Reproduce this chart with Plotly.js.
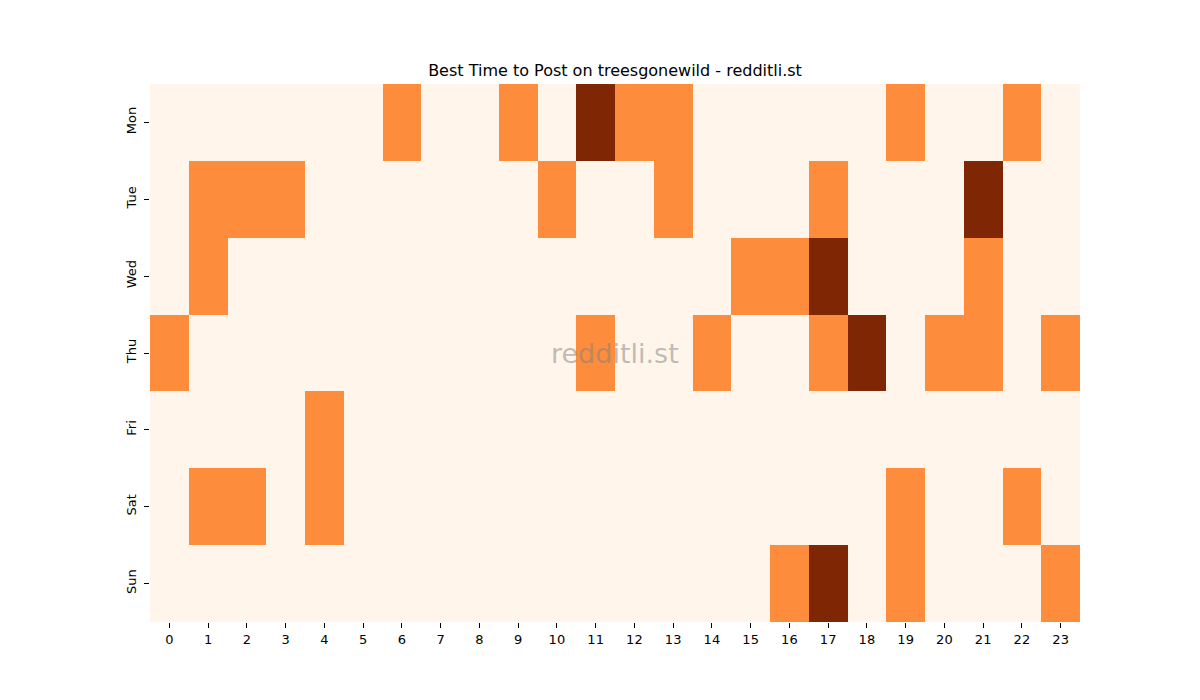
<!DOCTYPE html>
<html>
<head>
<meta charset="utf-8">
<script src="https://cdn.plot.ly/plotly-3.0.1.min.js"></script>
<style>
  body { margin: 0; background: #fff; }
  #chart { width: 1200px; height: 700px; }
</style>
</head>
<body>
<div id="chart"></div>
<script>
// hours of the day and weekdays
const hours = [0,1,2,3,4,5,6,7,8,9,10,11,12,13,14,15,16,17,18,19,20,21,22,23];
const days = ['Mon', 'Tue', 'Wed', 'Thu', 'Fri', 'Sat', 'Sun'];

// post score level per hour (0 = low, 1 = mid, 2 = high)
const mon = [0,0,0,0,0,0,1,0,0,1,0,2,1,1,0,0,0,0,0,1,0,0,1,0];
const tue = [0,1,1,1,0,0,0,0,0,0,1,0,0,1,0,0,0,1,0,0,0,2,0,0];
const wed = [0,1,0,0,0,0,0,0,0,0,0,0,0,0,0,1,1,2,0,0,0,1,0,0];
const thu = [1,0,0,0,0,0,0,0,0,0,0,1,0,0,1,0,0,1,2,0,1,1,0,1];
const fri = [0,0,0,0,1,0,0,0,0,0,0,0,0,0,0,0,0,0,0,0,0,0,0,0];
const sat = [0,1,1,0,1,0,0,0,0,0,0,0,0,0,0,0,0,0,0,1,0,0,1,0];
const sun = [0,0,0,0,0,0,0,0,0,0,0,0,0,0,0,0,1,2,0,1,0,0,0,1];

const grid = [mon, tue, wed, thu, fri, sat, sun];

const trace = {
  type: 'heatmap',
  x: hours,
  y: days,
  z: grid,
  zmin: 0,
  zmax: 2,
  colorscale: [[0, '#fff5eb'], [0.5, '#fd8d3c'], [1, '#7f2704']],
  showscale: false,
  hoverinfo: 'skip'
};

const layout = {
  width: 1200,
  height: 700,
  margin: { l: 150, r: 120, t: 84, b: 78 },
  paper_bgcolor: '#fff',
  plot_bgcolor: '#fff',
  font: { family: 'DejaVu Sans, sans-serif', size: 13, color: '#000' },
  title: {
    text: 'Best Time to Post on treesgonewild - redditli.st',
    font: { size: 16, color: '#000' },
    xref: 'paper',
    x: 0.5,
    xanchor: 'center',
    y: 1 - 70 / 700,
    yanchor: 'middle'
  },
  xaxis: {
    tickmode: 'array',
    tickvals: hours,
    ticktext: hours.map(String),
    ticks: 'outside',
    ticklen: 5,
    tickcolor: '#000',
    showgrid: false,
    zeroline: false,
    showline: false,
    fixedrange: true
  },
  yaxis: {
    autorange: 'reversed',
    tickmode: 'array',
    tickvals: days,
    ticktext: days,
    tickangle: -90,
    ticks: 'outside',
    ticklen: 5,
    ticklabelstandoff: 3,
    tickcolor: '#000',
    showgrid: false,
    zeroline: false,
    showline: false,
    fixedrange: true
  },
  annotations: [{
    text: 'redditli.st',
    xref: 'paper',
    yref: 'paper',
    x: 0.5,
    y: 0.5,
    showarrow: false,
    font: { size: 27, color: 'rgba(128,128,128,0.5)' }
  }]
};

Plotly.newPlot('chart', [trace], layout, { displayModeBar: false, responsive: false });
</script>
</body>
</html>
